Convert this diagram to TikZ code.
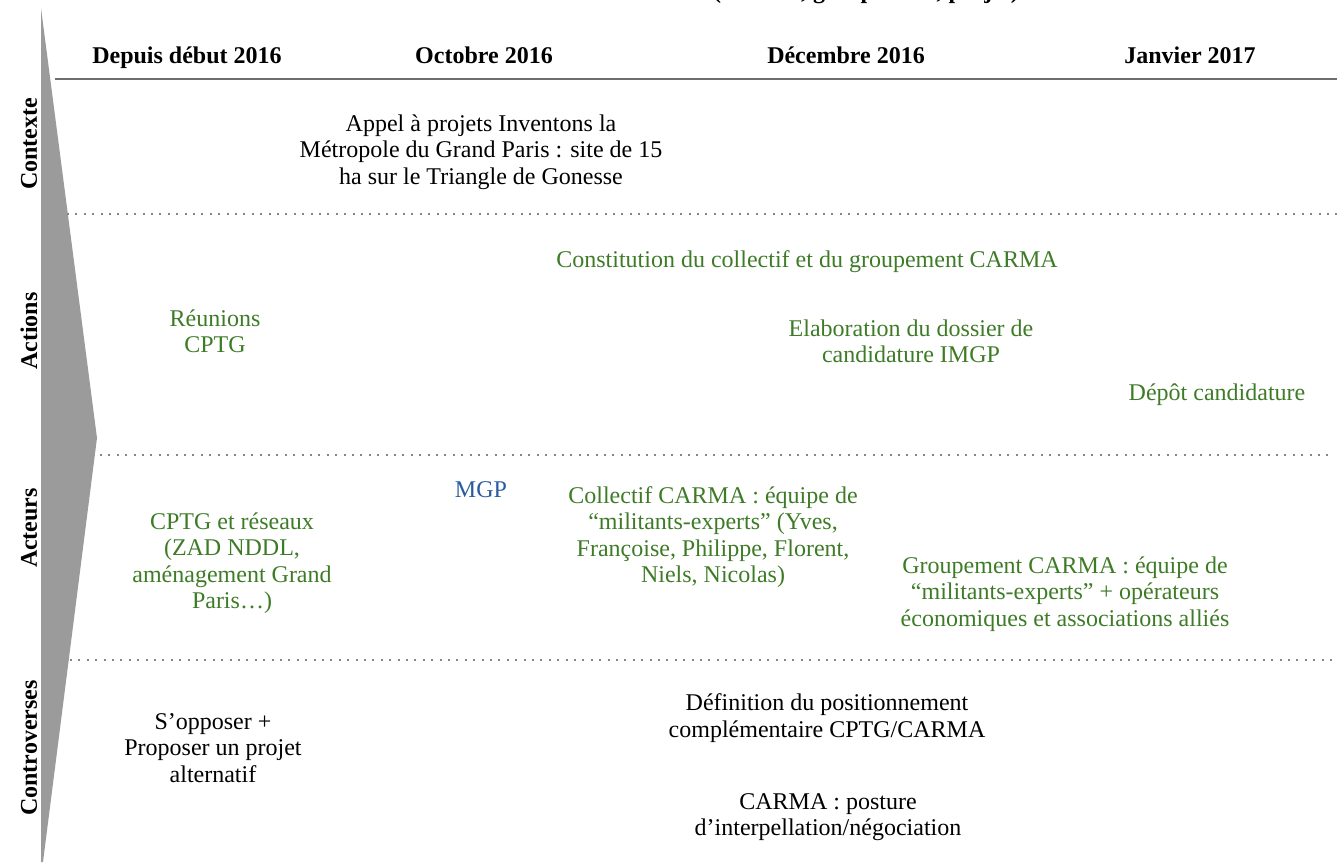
\documentclass[tikz,border=0pt]{standalone}
\usepackage{fontspec}
\setmainfont{Liberation Serif}
\usepackage{xcolor}
\usepackage{tikz}
\usetikzlibrary{positioning}
\definecolor{actionc}{HTML}{3E7B27}
\definecolor{mgpc}{HTML}{2A5BA0}
\definecolor{wedgec}{HTML}{9B9B9B}
\definecolor{rulec}{HTML}{6E6E6E}
\definecolor{dotc}{HTML}{858585}
\tikzset{
  textnode/.style={inner sep=0pt, align=center, font=\fontsize{12}{13.2}\selectfont},
  headnode/.style={textnode, font=\fontsize{12}{13.2}\selectfont\bfseries},
  rownode/.style={headnode, rotate=90},
  actionnode/.style={textnode, text=actionc},
  mgpnode/.style={textnode, text=mgpc},
  headrule/.style={draw=rulec, line width=1.2pt},
  rowrule/.style={draw=dotc, line width=1pt, dash pattern=on 1pt off 3.2pt},
}
\begin{document}
\begin{tikzpicture}[x=0.5pt, y=-0.5pt]
  \useasboundingbox (0,0) rectangle (1337,863);
  \clip (0,0) rectangle (1337,863);
  \fill[wedgec] (41,8) -- (97,438) -- (43,862) -- (41,862) -- cycle;
  \node[headnode, anchor=base] (title) at (866,-2) {(collectif, groupement, projet)};
  \node[headnode, anchor=base] (depuis) at (187,63) {Depuis début 2016};
  \node[headnode, anchor=base] (octobre) at (484,63) {Octobre 2016};
  \node[headnode, anchor=base] (decembre) at (846,63) {Décembre 2016};
  \node[headnode, anchor=base] (janvier) at (1190,63) {Janvier 2017};
  \node[rownode] (contexte) at (29,144) {Contexte};
  \node[rownode] (actions) at (29,331) {Actions};
  \node[rownode] (acteurs) at (29,528) {Acteurs};
  \node[rownode] (controverses) at (29,748) {Controverses};
  \coordinate (rule-l) at (55,79);
  \coordinate (rule-r) at (1337,79);
  \coordinate (sep1-l) at (67,214);
  \coordinate (sep1-r) at (1337,214);
  \coordinate (sep2-l) at (100,455);
  \coordinate (sep2-r) at (1333,455);
  \coordinate (sep3-l) at (70,660);
  \coordinate (sep3-r) at (1333,660);
  \draw[headrule] (rule-l) -- (rule-r);
  \draw[rowrule] (sep1-l) -- (sep1-r);
  \draw[rowrule] (sep2-l) -- (sep2-r);
  \draw[rowrule] (sep3-l) -- (sep3-r);
  \node[textnode] (appel) at (481,152) {Appel à projets Inventons la\\Métropole du Grand Paris : site de 15\\ha sur le Triangle de Gonesse};
  \node[actionnode] (constitution) at (807,262) {Constitution du collectif et du groupement CARMA};
  \node[actionnode] (reunions) at (215,331) {Réunions\\CPTG};
  \node[actionnode] (elaboration) at (911,341) {Elaboration du dossier de\\candidature IMGP};
  \node[actionnode] (depot) at (1217,395) {Dépôt candidature};
  \node[mgpnode] (mgp) at (481,490) {MGP};
  \node[actionnode] (collectif) at (713,537) {Collectif CARMA : équipe de\\“militants-experts” (Yves,\\Françoise, Philippe, Florent,\\Niels, Nicolas)};
  \node[actionnode] (cptg) at (232,563) {CPTG et réseaux\\(ZAD NDDL,\\aménagement Grand\\Paris…)};
  \node[actionnode] (groupement) at (1065,594) {Groupement CARMA : équipe de\\“militants-experts” + opérateurs\\économiques et associations alliés};
  \node[textnode] (opposer) at (213,748) {S’opposer +\\Proposer un projet\\alternatif};
  \node[textnode] (definition) at (827,718) {Définition du positionnement\\complémentaire CPTG/CARMA};
  \node[textnode] (posture) at (828,817) {CARMA : posture\\d’interpellation/négociation};
\end{tikzpicture}
\end{document}
